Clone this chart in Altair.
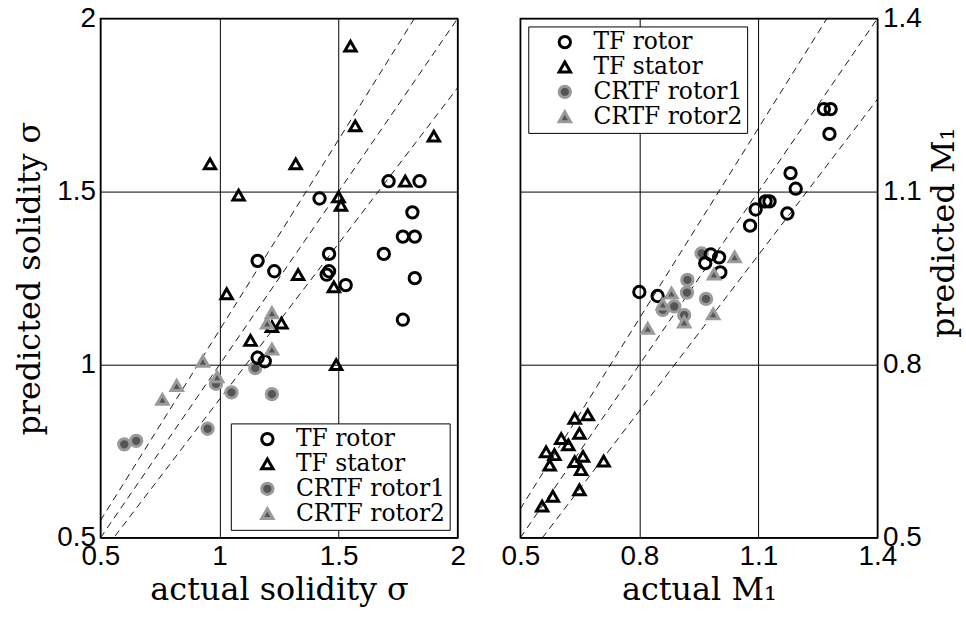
import altair as alt
import pandas as pd

series_names = ["TF rotor", "TF stator", "CRTF rotor1", "CRTF rotor2"]

# Left panel: solidity
tf_rotor_sol_x = [1.71, 1.84, 1.42, 1.81, 1.77, 1.82, 1.69, 1.46, 1.16, 1.46, 1.23, 1.45, 1.53, 1.82, 1.77, 1.16, 1.19]
tf_rotor_sol_y = [1.53, 1.53, 1.48, 1.44, 1.37, 1.37, 1.32, 1.32, 1.30, 1.27, 1.27, 1.26, 1.23, 1.25, 1.13, 1.02, 1.01]
tf_stator_sol_x = [1.55, 1.57, 1.90, 0.96, 1.32, 1.08, 1.50, 1.51, 1.78, 1.33, 1.48, 1.03, 1.26, 1.22, 1.13, 1.49]
tf_stator_sol_y = [1.92, 1.69, 1.66, 1.58, 1.58, 1.49, 1.485, 1.46, 1.53, 1.26, 1.225, 1.205, 1.12, 1.11, 1.07, 1.00]
crtf1_sol_x = [0.60, 0.65, 0.95, 0.985, 1.05, 1.15, 1.22]
crtf1_sol_y = [0.77, 0.78, 0.815, 0.945, 0.92, 0.99, 0.915]
crtf2_sol_x = [0.76, 0.82, 0.93, 0.99, 1.22, 1.20, 1.22]
crtf2_sol_y = [0.90, 0.94, 1.01, 0.965, 1.15, 1.12, 1.045]

# Right panel: Mach number
tf_rotor_m_x = [1.265, 1.282, 1.279, 1.181, 1.194, 1.118, 1.128, 1.093, 1.173, 1.079, 0.980, 1.001, 0.966, 1.004, 0.800, 0.846]
tf_rotor_m_y = [1.243, 1.243, 1.200, 1.132, 1.105, 1.083, 1.083, 1.069, 1.062, 1.041, 0.991, 0.986, 0.976, 0.960, 0.926, 0.919]
tf_stator_m_x = [0.670, 0.637, 0.649, 0.603, 0.621, 0.565, 0.586, 0.658, 0.637, 0.710, 0.574, 0.653, 0.649, 0.582, 0.555]
tf_stator_m_y = [0.713, 0.707, 0.681, 0.672, 0.661, 0.649, 0.644, 0.641, 0.632, 0.633, 0.626, 0.618, 0.583, 0.572, 0.555]
crtf1_m_x = [0.957, 0.921, 0.920, 0.968, 0.888, 0.859, 0.913]
crtf1_m_y = [0.993, 0.947, 0.925, 0.914, 0.901, 0.895, 0.886]
crtf2_m_x = [1.040, 0.988, 0.881, 0.859, 0.821, 0.913, 0.986]
crtf2_m_y = [0.987, 0.957, 0.924, 0.905, 0.863, 0.874, 0.888]

ref_slopes = [0.9, 1.0, 1.1]
sol_domain = [0.5, 2.0]
sol_ticks = [0.5, 1.0, 1.5, 2.0]
m_domain = [0.5, 1.4]
m_ticks = [0.5, 0.8, 1.1, 1.4]

draw_order = ["TF stator", "CRTF rotor1", "TF rotor", "CRTF rotor2"]

SERIF = "DejaVu Serif"
SANS = "Liberation Sans"
LEG_SIZE = 23.5


def make_df(groups):
    rows = []
    for name in draw_order:
        xs, ys = groups[name]
        for a, b in zip(xs, ys):
            rows.append({"x": a, "y": b, "series": name})
    return pd.DataFrame(rows)


def make_lines(dom):
    rows = []
    for k in ref_slopes:
        for xv in dom:
            rows.append({"x": xv, "y": k * xv, "k": str(k)})
    return pd.DataFrame(rows)


sol_df = make_df({
    "TF rotor": (tf_rotor_sol_x, tf_rotor_sol_y),
    "TF stator": (tf_stator_sol_x, tf_stator_sol_y),
    "CRTF rotor1": (crtf1_sol_x, crtf1_sol_y),
    "CRTF rotor2": (crtf2_sol_x, crtf2_sol_y),
})
m_df = make_df({
    "TF rotor": (tf_rotor_m_x, tf_rotor_m_y),
    "TF stator": (tf_stator_m_x, tf_stator_m_y),
    "CRTF rotor1": (crtf1_m_x, crtf1_m_y),
    "CRTF rotor2": (crtf2_m_x, crtf2_m_y),
})

LIGHT = "#9a9a9a"
DARK = "#555555"

axis_common = dict(labelFont=SANS, labelFontSize=28, labelColor="black", labelPadding=5,
                   titleFont=SERIF, titleFontSize=32, titleFontWeight="normal",
                   titleColor="black", labelFlush=False)


def panel(df, dom, ticks, xtitle, ytitle, yorient, legend_orient):
    xenc = alt.X("x:Q", scale=alt.Scale(domain=dom, nice=False, zero=False),
                 axis=alt.Axis(values=ticks, format="~g", title=xtitle, **axis_common))
    yaxis_kw = dict(values=ticks, format="~g", title=ytitle, orient=yorient, **axis_common)
    if yorient == "right":
        yaxis_kw.update(titleAngle=270, titleBaseline="top", titleY=215, titlePadding=8)
    else:
        yaxis_kw.update(titlePadding=10)
    yenc = alt.Y("y:Q", scale=alt.Scale(domain=dom, nice=False, zero=False),
                 axis=alt.Axis(**yaxis_kw))
    leg = alt.Legend(title=None, orient=legend_orient, offset=8,
                     labelFont=SERIF, labelFontSize=LEG_SIZE)
    lines = alt.Chart(make_lines(dom)).mark_line(
        color="black", strokeWidth=0.9, strokeDash=[7, 5], clip=True
    ).encode(x=xenc, y=yenc, detail="k:N")
    pts = alt.Chart(df).mark_point(filled=True, size=130, strokeWidth=3, opacity=1).encode(
        x=xenc, y=yenc,
        shape=alt.Shape("series:N", scale=alt.Scale(domain=series_names,
                        range=["circle", "triangle-up", "circle", "triangle-up"]), legend=leg),
        fill=alt.Fill("series:N", scale=alt.Scale(domain=series_names,
                      range=["transparent", "transparent", DARK, DARK]), legend=leg),
        stroke=alt.Stroke("series:N", scale=alt.Scale(domain=series_names,
                          range=["black", "black", LIGHT, LIGHT]), legend=leg),
    )
    return alt.layer(lines, pts).properties(width=359, height=522)


left = panel(sol_df, sol_domain, sol_ticks, "actual solidity σ", "predicted solidity σ", "left", "bottom-right")
right = panel(m_df, m_domain, m_ticks, "actual M₁", "predicted M₁", "right", "top-left")

chart = alt.hconcat(left, right, spacing=33).resolve_scale(
    shape="independent", fill="independent", stroke="independent"
).properties(
    padding={"left": 13, "top": 2, "right": 5, "bottom": 5}
).configure(
    font=SERIF
).configure_view(
    stroke="black", strokeWidth=1.5
).configure_axis(
    grid=True, gridColor="black", gridOpacity=1, gridWidth=1,
    ticks=False, domain=False
).configure_legend(
    strokeColor="black", fillColor="white", padding=4, cornerRadius=0,
    labelFont=SERIF, labelFontSize=LEG_SIZE, labelColor="black",
    symbolSize=130, symbolStrokeWidth=3, rowPadding=0,
    symbolOffset=21, labelOffset=17
)

chart.save("out.html", embed_options={"renderer": "svg", "actions": False})
